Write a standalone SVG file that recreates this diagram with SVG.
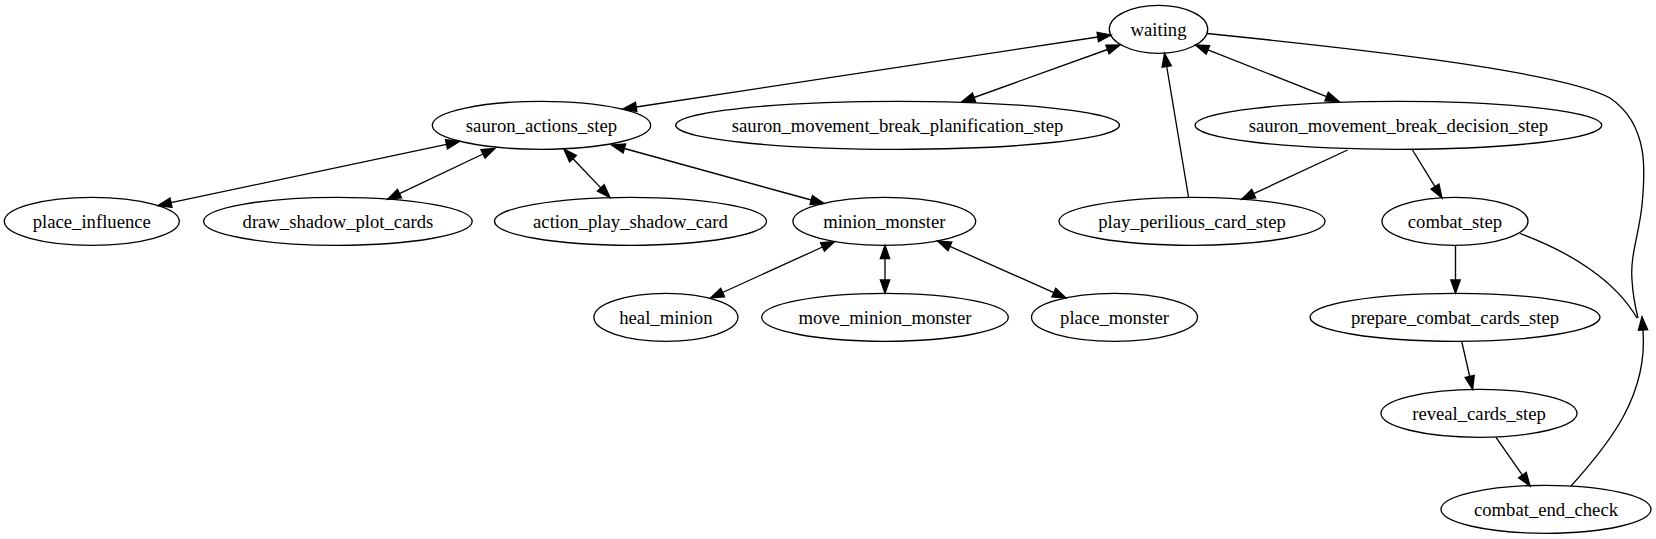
<svg xmlns="http://www.w3.org/2000/svg" width="1656" height="539" viewBox="0 0 1656 539">
<style>
.n ellipse{fill:none;stroke:#000;stroke-width:1.33}
.n text{font-family:"Liberation Serif","Times New Roman",serif;font-size:18.67px;text-anchor:middle;fill:#000}
#edges path{fill:none;stroke:#000;stroke-width:1.33}
.b{marker-start:url(#ah);marker-end:url(#ah)}
.e{marker-end:url(#ah)}
</style>
<defs>
<marker id="ah" markerUnits="userSpaceOnUse" markerWidth="14" markerHeight="10" refX="0" refY="4.67" orient="auto-start-reverse" overflow="visible">
<path d="M0,0 L13.33,4.67 L0,9.33 z" fill="#000" stroke="#000" stroke-width="1.33"/>
</marker>
</defs>
<rect width="1656" height="539" fill="#fff"/>
<g id="edges">
<path class="b" d="M636.2,107 L1097.8,37"/>
<path class="b" d="M974,97.5 L1107.5,49.5"/>
<path class="b" d="M1207.9,49.9 L1326.6,96.6"/>
<path class="e" d="M1188.5,197 L1166.7,66.5"/>
<path class="e" d="M1347.5,150 L1253.7,193.7"/>
<path class="e" d="M1412.5,150 L1435,186.6"/>
<path class="b" d="M446.5,144.3 L171,202.7"/>
<path class="b" d="M483,154 L399.5,193.6"/>
<path class="b" d="M573,158.7 L600.8,187.9"/>
<path class="b" d="M624.4,148.5 L811.2,200"/>
<path class="b" d="M822.5,247 L722.6,292.5"/>
<path class="b" d="M885,258.6 L885,280"/>
<path class="b" d="M949.9,246.4 L1053.8,292.6"/>
<path class="e" d="M1455.5,245.3 L1455.5,280"/>
<path class="e" d="M1461.7,341.3 L1469.7,376.5"/>
<path class="e" d="M1496,437.3 L1522.4,475.1"/>
<path class="e" d="M1571,486 C1610,443 1648,395 1643,330"/>
<path d="M1520,233.5 C1570,252 1615,280 1637,318"/>
<path d="M1207,33.5 C1330,46 1560,70 1610,98 C1650,125 1645,175 1642,205 C1639,235 1630,255 1632,280 C1633,298 1636,310 1638,318"/>
</g>
<g id="waiting" class="n"><ellipse cx="1158.5" cy="29.3" rx="49.2" ry="24"/><text x="1158.5" y="35.5">waiting</text></g>
<g id="sauron_actions_step" class="n"><ellipse cx="541.5" cy="125.3" rx="109.2" ry="24"/><text x="541.5" y="131.5">sauron_actions_step</text></g>
<g id="sauron_movement_break_planification_step" class="n"><ellipse cx="897.6" cy="125.3" rx="221.9" ry="24"/><text x="897.6" y="131.5">sauron_movement_break_planification_step</text></g>
<g id="sauron_movement_break_decision_step" class="n"><ellipse cx="1398.4" cy="125.3" rx="203.4" ry="24"/><text x="1398.4" y="131.5">sauron_movement_break_decision_step</text></g>
<g id="place_influence" class="n"><ellipse cx="91.8" cy="221.3" rx="87.5" ry="24"/><text x="91.8" y="227.5">place_influence</text></g>
<g id="draw_shadow_plot_cards" class="n"><ellipse cx="337.9" cy="221.3" rx="134.3" ry="24"/><text x="337.9" y="227.5">draw_shadow_plot_cards</text></g>
<g id="action_play_shadow_card" class="n"><ellipse cx="630.5" cy="221.3" rx="136" ry="24"/><text x="630.5" y="227.5">action_play_shadow_card</text></g>
<g id="minion_monster" class="n"><ellipse cx="884.3" cy="221.3" rx="91.4" ry="24"/><text x="884.3" y="227.5">minion_monster</text></g>
<g id="play_perilious_card_step" class="n"><ellipse cx="1192" cy="221.3" rx="133" ry="24"/><text x="1192" y="227.5">play_perilious_card_step</text></g>
<g id="combat_step" class="n"><ellipse cx="1455" cy="221.3" rx="73" ry="24"/><text x="1455" y="227.5">combat_step</text></g>
<g id="heal_minion" class="n"><ellipse cx="665.9" cy="317.3" rx="72" ry="24"/><text x="665.9" y="323.5">heal_minion</text></g>
<g id="move_minion_monster" class="n"><ellipse cx="885" cy="317.3" rx="123.3" ry="24"/><text x="885" y="323.5">move_minion_monster</text></g>
<g id="place_monster" class="n"><ellipse cx="1114.5" cy="317.3" rx="83" ry="24"/><text x="1114.5" y="323.5">place_monster</text></g>
<g id="prepare_combat_cards_step" class="n"><ellipse cx="1455" cy="317.3" rx="145" ry="24"/><text x="1455" y="323.5">prepare_combat_cards_step</text></g>
<g id="reveal_cards_step" class="n"><ellipse cx="1479" cy="413.3" rx="98" ry="24"/><text x="1479" y="419.5">reveal_cards_step</text></g>
<g id="combat_end_check" class="n"><ellipse cx="1546" cy="509.3" rx="105" ry="24"/><text x="1546" y="515.5">combat_end_check</text></g>
</svg>
